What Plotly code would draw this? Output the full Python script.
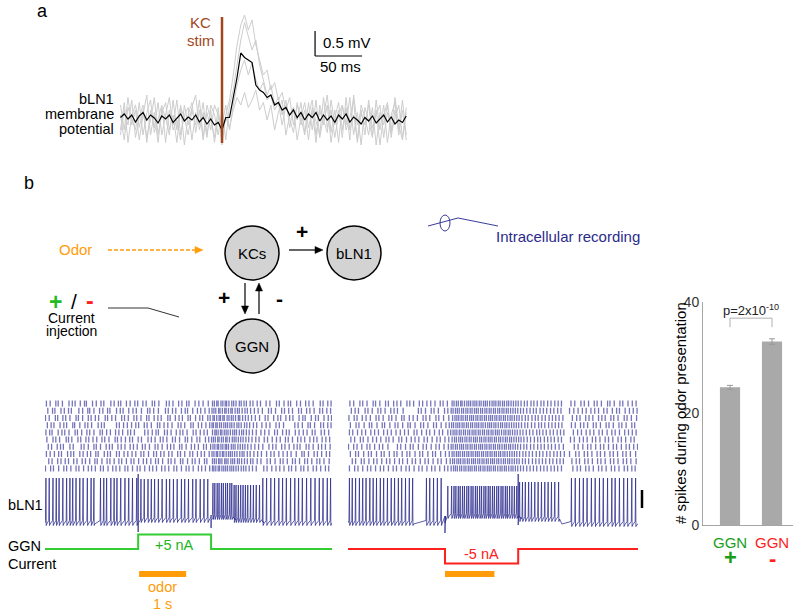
import numpy as np
import plotly.graph_objects as go

W, H = 800, 615
FONT = "Liberation Sans, Arial, sans-serif"


def X(p):
    return p / W


def Y(p):
    return 1 - p / H


# ---------------- panel a data (mV vs ms, stim at 0 ms) ----------------
a_t_ms = np.arange(-108, 197, 4)  # sampling times, 4 ms
a_black_mV = [0.05, 0.12, 0.02, 0.1, -0.04, 0.08, 0.15, 0.0, 0.1, 0.04,
              -0.06, 0.08, 0.02, 0.1, -0.05, 0.04, 0.12, -0.02, 0.06, 0.0,
              0.1, -0.04, 0.05, -0.08, 0.02, -0.1, -0.05, -0.2, 0.05, 0.05,
              0.45, 0.85, 1.34, 1.25, 1.2, 1.15, 0.7, 0.6, 0.55, 0.45,
              0.5, 0.3, 0.35, 0.2, 0.25, 0.1, 0.2, 0.05, 0.15, 0.0,
              0.12, 0.05, 0.15, -0.02, 0.1, 0.0, 0.08, -0.05, 0.1, 0.02,
              0.12, -0.04, 0.06, 0.0, -0.08, 0.05, -0.02, 0.08, -0.06, 0.02,
              0.1, -0.04, 0.06, -0.08, 0.0, -0.05, 0.08]
a_gray1_mV = [0.3, -0.2, 0.45, -0.1, 0.2, -0.4, 0.1, 0.5, -0.3, 0.15,
              -0.45, 0.25, 0.05, -0.3, 0.4, -0.2, 0.3, -0.5, 0.1, 0.35,
              -0.25, 0.2, -0.4, 0.3, 0.0, -0.35, 0.25, -0.5, 0.1, 0.4,
              0.9, 1.5, 1.9, 2.1, 1.8, 2.0, 1.5, 1.2, 0.9, 1.0,
              0.6, 0.75, 0.4, 0.55, 0.2, 0.45, -0.1, 0.3, 0.05, -0.3,
              0.35, -0.2, 0.4, -0.35, 0.1, 0.5, -0.25, 0.2, -0.45, 0.3,
              -0.1, 0.45, -0.3, 0.15, -0.5, 0.25, 0.0, -0.35, 0.4, -0.2,
              0.3, -0.45, 0.1, 0.35, -0.3, 0.2, -0.4]
a_gray2_mV = [-0.3, 0.2, -0.1, 0.4, -0.35, 0.05, 0.3, -0.45, 0.2, -0.15,
              0.35, -0.3, 0.1, 0.45, -0.2, 0.0, -0.4, 0.3, -0.1, 0.25,
              0.5, -0.2, 0.15, -0.35, 0.3, 0.1, -0.3, 0.2, -0.4, 0.3,
              0.6, 1.1, 1.6, 1.95, 1.7, 1.4, 1.6, 1.1, 0.8, 0.5,
              0.7, 0.3, 0.45, 0.1, 0.4, -0.15, 0.25, 0.0, 0.35, -0.25,
              0.1, 0.4, -0.3, 0.2, -0.1, 0.3, -0.45, 0.05, 0.35, -0.2,
              0.25, -0.4, 0.5, -0.1, 0.2, -0.3, 0.4, -0.15, 0.1, 0.3,
              -0.35, 0.15, -0.2, 0.45, -0.1, -0.4, 0.25]
a_gray3_mV = [0.1, -0.4, 0.25, 0.0, -0.2, 0.35, -0.3, 0.15, 0.4, -0.25,
              0.05, 0.3, -0.45, 0.2, -0.1, 0.4, -0.3, 0.1, 0.25, -0.4,
              0.15, -0.1, 0.35, -0.3, 0.2, -0.45, 0.05, -0.1, 0.3, -0.2,
              0.3, 0.7, 1.0, 1.2, 0.9, 1.15, 0.8, 0.6, 0.75, 0.4,
              0.5, 0.2, 0.35, -0.1, 0.3, 0.05, -0.25, 0.35, -0.1, 0.2,
              -0.4, 0.25, 0.0, -0.3, 0.45, -0.15, 0.2, -0.35, 0.1, 0.3,
              -0.2, 0.05, 0.4, -0.45, 0.15, -0.1, 0.3, -0.3, 0.2, -0.5,
              0.1, 0.35, -0.25, 0.0, 0.3, -0.35, 0.15]
a_gray4_mV = [-0.2, 0.35, -0.45, 0.1, 0.3, -0.15, 0.2, -0.35, 0.0, 0.45,
              -0.3, 0.15, 0.35, -0.2, 0.1, -0.45, 0.25, 0.05, -0.3, 0.2,
              -0.1, 0.4, -0.35, 0.15, -0.2, 0.3, 0.1, -0.3, 0.05, -0.15,
              0.2, 0.45, 0.3, 0.55, 0.25, 0.4, 0.6, 0.2, 0.35, 0.0,
              0.3, -0.2, 0.15, 0.4, -0.3, 0.1, 0.25, -0.4, 0.05, 0.35,
              -0.15, 0.2, -0.45, 0.3, 0.0, -0.25, 0.4, -0.1, 0.2, -0.35,
              0.45, -0.2, 0.1, -0.4, 0.3, 0.05, -0.3, 0.25, -0.5, 0.15,
              -0.1, 0.3, -0.35, 0.2, -0.2, 0.4, -0.3]
a_stim_ms = 0
a_scale_ms = 50
a_scale_mV = 0.5

# ---------------- panel b data (spike times in units of 10 ms) ----------------
left_raster_cs = [
    [3, 11, 23, 28, 37, 51, 58, 64, 75, 84, 88, 101, 109, 119, 125, 140, 147, 156, 161, 173, 181, 191, 197, 208, 215, 228, 233, 242, 258, 264, 272, 284, 291, 301, 306, 319, 327, 336, 347, 356, 360, 365, 368, 374, 378, 383, 386, 391, 397, 401, 406, 413, 417, 423, 428, 436, 442, 451, 458, 470, 478, 492, 498, 508, 517, 522, 535, 543, 554, 561, 570, 585, 591, 601, 608],
    [6, 16, 21, 34, 41, 50, 56, 72, 80, 91, 95, 104, 116, 123, 133, 138, 152, 160, 166, 178, 187, 194, 205, 218, 223, 231, 241, 256, 262, 271, 278, 290, 298, 303, 314, 324, 331, 340, 349, 355, 359, 363, 369, 372, 377, 382, 385, 390, 395, 398, 404, 409, 413, 419, 425, 430, 437, 445, 453, 462, 475, 481, 490, 503, 509, 518, 526, 539, 545, 556, 563, 572, 584, 590, 599, 607],
    [1, 9, 22, 27, 38, 44, 53, 66, 71, 80, 92, 98, 107, 114, 128, 133, 142, 150, 163, 169, 177, 189, 195, 204, 216, 221, 232, 240, 247, 261, 266, 277, 285, 292, 304, 309, 320, 329, 335, 346, 351, 357, 360, 365, 370, 373, 378, 381, 387, 391, 396, 400, 405, 411, 414, 420, 426, 432, 439, 447, 456, 468, 474, 486, 495, 501, 512, 520, 527, 540, 548, 553, 566, 575, 581, 593, 602, 609],
    [5, 13, 19, 32, 40, 46, 59, 63, 74, 85, 91, 99, 113, 120, 126, 152, 158, 167, 175, 184, 193, 199, 211, 217, 226, 239, 244, 253, 261, 270, 283, 289, 297, 310, 315, 326, 333, 342, 350, 355, 358, 363, 366, 371, 375, 380, 384, 388, 393, 397, 402, 408, 412, 417, 424, 429, 435, 443, 450, 461, 470, 478, 491, 498, 507, 531, 538, 547, 559, 564, 573, 586, 592, 601, 608],
    [2, 10, 15, 28, 36, 42, 51, 64, 69, 78, 89, 95, 104, 117, 122, 131, 139, 150, 157, 165, 176, 182, 190, 212, 219, 228, 236, 241, 254, 260, 268, 279, 287, 293, 302, 315, 321, 330, 338, 345, 356, 361, 364, 368, 373, 376, 381, 385, 389, 394, 399, 403, 407, 413, 418, 422, 428, 434, 441, 449, 459, 467, 476, 488, 494, 505, 513, 519, 532, 540, 549, 557, 568, 574, 587, 594, 603],
    [4, 17, 23, 31, 45, 50, 57, 70, 76, 87, 93, 102, 110, 121, 127, 136, 149, 154, 162, 171, 180, 186, 198, 205, 219, 226, 234, 245, 251, 259, 271, 277, 286, 298, 303, 312, 323, 329, 341, 348, 354, 358, 362, 367, 370, 375, 379, 384, 387, 392, 398, 402, 406, 411, 416, 421, 427, 433, 440, 448, 455, 466, 473, 483, 492, 500, 511, 517, 526, 537, 544, 552, 563, 571, 578, 589, 597, 605],
    [7, 14, 26, 33, 39, 53, 60, 77, 83, 92, 104, 109, 118, 130, 137, 143, 155, 162, 170, 181, 188, 196, 207, 213, 222, 234, 240, 249, 260, 267, 274, 286, 291, 300, 311, 318, 326, 337, 343, 352, 357, 361, 366, 369, 374, 378, 383, 386, 390, 396, 400, 404, 410, 415, 420, 425, 431, 438, 446, 454, 463, 476, 484, 491, 503, 510, 519, 529, 536, 542, 555, 561, 570, 581, 588, 596, 606],
    [3, 11, 20, 29, 35, 48, 55, 61, 74, 81, 90, 97, 108, 113, 126, 133, 139, 152, 158, 168, 176, 185, 193, 204, 210, 220, 231, 237, 246, 253, 263, 270, 282, 288, 297, 308, 314, 324, 332, 339, 349, 355, 359, 364, 367, 372, 377, 380, 385, 390, 394, 398, 403, 408, 414, 419, 423, 430, 436, 444, 452, 460, 471, 480, 487, 497, 506, 515, 523, 534, 546, 551, 560, 572, 579, 588, 598, 605],
    [8, 15, 27, 34, 43, 50, 61, 68, 79, 86, 95, 106, 111, 121, 132, 138, 147, 157, 163, 173, 183, 189, 199, 209, 216, 225, 235, 241, 250, 262, 268, 276, 288, 293, 303, 313, 319, 328, 339, 344, 356, 360, 364, 369, 372, 376, 382, 385, 389, 395, 399, 403, 409, 413, 418, 424, 430, 437, 442, 451, 459, 472, 479, 489, 500, 506, 515, 526, 532, 541, 552, 558, 567, 578, 584, 593, 604],
    [1, 12, 18, 29, 40, 46, 55, 66, 72, 82, 92, 99, 107, 118, 124, 134, 144, 151, 159, 170, 176, 186, 196, 202, 212, 222, 229, 237, 248, 255, 263, 274, 280, 290, 300, 306, 315, 326, 333, 341, 350, 356, 359, 363, 368, 371, 376, 380, 384, 388, 393, 397, 401, 406, 411, 417, 422, 427, 434, 441, 449, 465, 472, 482, 491, 499, 508, 518, 524, 533, 544, 550, 559, 570, 577, 586, 596, 603],
]
right_raster_cs = [
    [4, 12, 25, 31, 40, 53, 58, 67, 79, 85, 96, 103, 111, 124, 130, 138, 150, 157, 166, 174, 183, 194, 200, 209, 219, 223, 228, 232, 237, 240, 245, 250, 254, 258, 263, 267, 271, 276, 280, 285, 289, 293, 298, 303, 307, 311, 316, 320, 325, 329, 334, 338, 343, 348, 353, 358, 364, 371, 377, 385, 391, 398, 406, 412, 420, 427, 435, 442, 449, 469, 477, 490, 497, 506, 518, 524, 533, 546, 551, 560, 572, 578, 589, 598, 606],
    [7, 15, 22, 36, 42, 51, 63, 69, 78, 90, 97, 104, 116, 148, 154, 163, 175, 181, 190, 203, 210, 217, 221, 226, 230, 234, 239, 243, 248, 252, 257, 261, 266, 270, 274, 279, 283, 288, 292, 297, 301, 306, 310, 315, 319, 324, 328, 333, 337, 342, 347, 352, 357, 363, 369, 376, 383, 390, 396, 404, 411, 418, 426, 433, 441, 448, 466, 475, 484, 493, 501, 511, 519, 527, 538, 545, 556, 565, 571, 583, 592, 600, 608],
    [2, 13, 19, 30, 38, 47, 59, 65, 74, 86, 92, 101, 113, 118, 129, 137, 146, 158, 164, 172, 185, 191, 201, 212, 220, 225, 229, 233, 238, 242, 247, 251, 256, 260, 264, 269, 273, 278, 282, 287, 291, 296, 300, 304, 309, 313, 318, 322, 327, 331, 336, 341, 345, 350, 355, 360, 366, 373, 379, 387, 394, 400, 408, 415, 423, 430, 437, 444, 452, 472, 481, 488, 500, 507, 515, 527, 534, 541, 553, 559, 568, 581, 587, 596, 607],
    [5, 17, 23, 34, 45, 50, 61, 72, 77, 88, 99, 105, 115, 126, 131, 141, 153, 159, 168, 180, 186, 196, 206, 213, 218, 222, 227, 231, 235, 240, 244, 249, 253, 258, 262, 267, 271, 275, 280, 284, 289, 294, 298, 302, 307, 311, 316, 321, 325, 330, 334, 339, 344, 349, 354, 359, 365, 372, 378, 386, 393, 401, 407, 414, 422, 429, 436, 443, 450, 470, 478, 489, 496, 504, 516, 522, 531, 543, 549, 558, 570, 576, 585, 597, 603],
    [3, 10, 20, 29, 37, 48, 56, 64, 75, 83, 91, 101, 110, 119, 127, 139, 145, 155, 165, 172, 182, 192, 199, 210, 216, 221, 225, 229, 234, 238, 243, 247, 252, 256, 261, 265, 269, 274, 278, 283, 287, 292, 296, 301, 305, 310, 314, 318, 323, 328, 332, 337, 341, 346, 351, 356, 362, 368, 375, 382, 389, 397, 403, 410, 417, 425, 432, 440, 447, 454, 474, 483, 491, 501, 509, 517, 528, 535, 545, 555, 562, 571, 582, 590, 598, 606],
    [6, 14, 26, 32, 42, 52, 60, 69, 80, 86, 95, 107, 113, 123, 133, 141, 149, 160, 167, 177, 187, 194, 204, 212, 219, 224, 228, 233, 237, 241, 246, 250, 255, 259, 264, 268, 272, 277, 281, 286, 290, 295, 299, 303, 308, 312, 317, 321, 326, 331, 335, 340, 344, 349, 354, 359, 364, 370, 377, 384, 392, 399, 405, 413, 420, 427, 434, 442, 449, 468, 476, 487, 495, 503, 514, 521, 530, 541, 548, 557, 568, 575, 584, 595, 602],
    [1, 12, 19, 29, 40, 46, 56, 66, 73, 84, 104, 111, 121, 131, 137, 148, 158, 165, 175, 185, 192, 202, 211, 217, 221, 226, 230, 235, 239, 243, 248, 252, 257, 261, 266, 270, 275, 279, 283, 288, 292, 297, 301, 306, 310, 315, 319, 324, 329, 333, 338, 342, 347, 352, 357, 363, 370, 376, 384, 391, 399, 406, 413, 421, 428, 436, 444, 453, 476, 484, 494, 504, 511, 521, 531, 538, 548, 558, 565, 575, 585, 592, 601, 609],
    [5, 16, 22, 33, 43, 49, 60, 70, 76, 87, 97, 103, 114, 124, 130, 141, 151, 157, 168, 178, 184, 195, 205, 213, 219, 223, 228, 232, 236, 241, 245, 250, 254, 259, 263, 268, 272, 276, 281, 285, 290, 294, 299, 303, 308, 312, 317, 321, 326, 330, 335, 340, 345, 350, 355, 361, 368, 374, 381, 388, 396, 403, 410, 418, 425, 433, 440, 447, 455, 466, 479, 486, 497, 504, 513, 524, 531, 540, 551, 558, 567, 578, 585, 594, 605],
    [9, 16, 28, 34, 44, 54, 61, 71, 81, 88, 98, 108, 115, 125, 135, 142, 152, 162, 169, 179, 189, 196, 207, 215, 220, 224, 229, 233, 237, 242, 246, 251, 255, 260, 264, 268, 273, 277, 282, 286, 291, 295, 300, 304, 308, 313, 317, 322, 327, 331, 336, 340, 345, 350, 355, 360, 367, 373, 380, 388, 395, 402, 409, 416, 424, 431, 439, 446, 453, 471, 480, 487, 498, 505, 514, 525, 532, 541, 552, 559, 568, 579, 586, 595, 606],
    [3, 14, 21, 31, 41, 48, 58, 68, 75, 85, 95, 102, 112, 122, 129, 139, 149, 156, 166, 176, 183, 193, 203, 210, 217, 222, 226, 230, 235, 239, 244, 248, 253, 257, 261, 266, 270, 275, 279, 284, 288, 293, 297, 301, 306, 310, 315, 320, 324, 329, 333, 338, 343, 347, 352, 357, 363, 369, 376, 383, 390, 397, 405, 412, 419, 427, 434, 441, 449, 473, 482, 489, 500, 507, 516, 527, 534, 543, 554, 561, 570, 581, 588, 597, 604],
]
left_trace_cs = [2, 9, 17, 24, 30, 38, 46, 53, 59, 66, 74, 81, 90, 98, 104, 118, 125, 131, 140, 147, 153, 161, 170, 178, 186, 195, 204, 211, 219, 226, 233, 241, 249, 258, 265, 273, 281, 290, 297, 305, 314, 321, 330, 338, 346, 357, 361, 366, 370, 375, 379, 384, 388, 393, 397, 402, 406, 411, 416, 421, 426, 431, 437, 443, 449, 456, 463, 471, 480, 488, 497, 505, 513, 522, 531, 539, 547, 556, 565, 574, 583, 591, 600, 607]
right_trace_cs = [3, 9, 16, 24, 31, 38, 46, 53, 60, 68, 75, 83, 91, 98, 106, 113, 121, 129, 136, 165, 172, 180, 188, 196, 210, 218, 223, 227, 232, 236, 241, 245, 250, 254, 259, 263, 268, 272, 277, 281, 286, 290, 295, 299, 304, 308, 313, 317, 322, 326, 331, 335, 340, 345, 350, 355, 361, 367, 373, 380, 386, 393, 400, 407, 414, 421, 428, 435, 443, 470, 478, 487, 495, 503, 512, 520, 529, 537, 546, 555, 562, 571, 580, 588, 597, 605]

# epochs of the single-trial traces (s), baseline and spike-peak levels (mV re. rest)
left_epoch_s = [0, 1.98, 3.53, 4.0, 4.6, 6.1]
left_base_mV = [0, 3, 6, 3, 0]
left_peak_mV = [45, 44, 40, 38, 45]
left_artifacts = [(1.98, -9, 49), (3.53, -5, 8)]
right_epoch_s = [0, 2.04, 3.6, 4.45, 6.1]
right_base_mV = [0, 7, 4, -1]
right_peak_mV = [45, 37, 41, 45]
right_artifacts = [(2.04, -10, 5), (3.58, -2, 49)]

# injected GGN current (nA) and odor timing (s)
left_current_t = [0, 1.98, 1.98, 3.53, 3.53, 6.1]
left_current_nA = [0, 0, 5, 5, 0, 0]
right_current_t = [0, 2.04, 2.04, 3.58, 3.58, 6.1]
right_current_nA = [0, 0, -5, -5, 0, 0]
left_odor_s = [2.0, 3.0]
right_odor_s = [2.04, 3.08]
trace_scalebar_mV = 18

# bar chart
bar_labels = ["GGN +", "GGN -"]
bar_spikes = [24.7, 32.9]
bar_sem = [0.35, 0.5]

# ---------------- colours ----------------
BLUE = "rgba(42,42,140,0.85)"
RASTER = "rgba(62,62,160,0.72)"
GREEN = "#33cc33"
RED = "#ff2020"
ORANGE = "#ff9c0a"
BROWN = "#a3461d"
GRAY_C = "#d3d3d3"

fig = go.Figure()

# ---- panel a traces ----
for g in [a_gray1_mV, a_gray2_mV, a_gray3_mV, a_gray4_mV]:
    fig.add_trace(go.Scatter(x=a_t_ms, y=g, mode="lines",
                             line=dict(color="#cdcdcd", width=1),
                             xaxis="x", yaxis="y", hoverinfo="skip", showlegend=False))
fig.add_trace(go.Scatter(x=a_t_ms, y=a_black_mV, mode="lines",
                         line=dict(color="black", width=1.2),
                         xaxis="x", yaxis="y", hoverinfo="skip", showlegend=False))


# ---- rasters ----
def raster_xy(trials):
    xs, ys = [], []
    for i, tr in enumerate(trials):
        for s in tr:
            t = s / 100
            xs += [t, t, None]
            ys += [i + 0.08, i + 0.92, None]
    return xs, ys


for trials, xa, ya in [(left_raster_cs, "x2", "y2"), (right_raster_cs, "x3", "y5")]:
    xs, ys = raster_xy(trials)
    fig.add_trace(go.Scatter(x=xs, y=ys, mode="lines", line=dict(color=RASTER, width=1.3),
                             xaxis=xa, yaxis=ya, hoverinfo="skip", showlegend=False))


# ---- single-trial traces ----
def trace_xy(spikes_cs, edges, base, peak, arts):
    def level(t, arr):
        for i in range(len(edges) - 1):
            if edges[i] <= t < edges[i + 1]:
                return arr[i]
        return arr[-1]

    ev = [(s / 100, 0, None) for s in spikes_cs]
    ev += [(ta, 1, (lo, hi)) for ta, lo, hi in arts]
    ev += [(e, 2, None) for e in edges[1:-1]]
    ev.sort(key=lambda e: (e[0], e[1]))
    xs, ys = [0], [base[0]]
    for t, kind, extra in ev:
        b = level(t, base)
        if kind == 0:
            p = level(t, peak)
            xs += [t - 0.01, t, t + 0.006, t + 0.018]
            ys += [b + 2.5, p, b - 2.5, b - 1]
        elif kind == 1:
            lo, hi = extra
            xs += [t, t, t, t + 0.01]
            ys += [b, hi, lo, b]
        else:
            prev = level(t - 1e-6, base)
            xs += [t, t + 0.05]
            ys += [prev, b]
    xs.append(edges[-1])
    ys.append(base[-1])
    return xs, ys


for args, xa, ya in [((left_trace_cs, left_epoch_s, left_base_mV, left_peak_mV, left_artifacts), "x2", "y3"),
                     ((right_trace_cs, right_epoch_s, right_base_mV, right_peak_mV, right_artifacts), "x3", "y6")]:
    xs, ys = trace_xy(*args)
    fig.add_trace(go.Scatter(x=xs, y=ys, mode="lines", line=dict(color=BLUE, width=0.9),
                             xaxis=xa, yaxis=ya, hoverinfo="skip", showlegend=False))

# ---- currents ----
fig.add_trace(go.Scatter(x=left_current_t, y=left_current_nA, mode="lines",
                         line=dict(color=GREEN, width=2), xaxis="x2", yaxis="y4",
                         hoverinfo="skip", showlegend=False))
fig.add_trace(go.Scatter(x=right_current_t, y=right_current_nA, mode="lines",
                         line=dict(color=RED, width=2), xaxis="x3", yaxis="y7",
                         hoverinfo="skip", showlegend=False))

# ---- bar chart ----
fig.add_trace(go.Bar(x=[0, 1], y=bar_spikes, width=0.48, marker=dict(color="#a9a9a9", line=dict(width=0)),
                     error_y=dict(type="data", array=bar_sem, color="#999999", thickness=1, width=3),
                     xaxis="x4", yaxis="y8", hoverinfo="skip", showlegend=False))

hid = dict(visible=False, showgrid=False, zeroline=False, fixedrange=True, automargin=False)
fig.update_layout(
    width=W, height=H, margin=dict(l=0, r=0, t=0, b=0, pad=0, autoexpand=False),
    paper_bgcolor="white", plot_bgcolor="rgba(0,0,0,0)",
    font=dict(family=FONT, size=14, color="black"),
    showlegend=False,
    xaxis=dict(domain=[X(120), X(407)], range=[-108.5, 196.8], anchor="y", **hid),
    yaxis=dict(domain=[Y(148), Y(15)], range=[-0.56, 2.1], anchor="x", **hid),
    xaxis2=dict(domain=[X(45), X(332)], range=[0, 6.1], anchor="y2", **hid),
    yaxis2=dict(domain=[Y(472), Y(400)], range=[10, 0], anchor="x2", **hid),
    yaxis3=dict(domain=[Y(535), Y(470)], range=[-12, 53], anchor="x2", **hid),
    yaxis4=dict(domain=[Y(570), Y(528)], range=[-7.24, 7.24], anchor="x2", **hid),
    xaxis3=dict(domain=[X(348), X(638)], range=[0, 6.1], anchor="y5", **hid),
    yaxis5=dict(domain=[Y(472), Y(400)], range=[10, 0], anchor="x3", **hid),
    yaxis6=dict(domain=[Y(535), Y(470)], range=[-12, 53], anchor="x3", **hid),
    yaxis7=dict(domain=[Y(570), Y(528)], range=[-7.24, 7.24], anchor="x3", **hid),
    xaxis4=dict(domain=[X(703), X(793)], range=[-0.643, 1.5], anchor="y8", showline=True,
                linecolor="#a6a6a6", linewidth=1, showticklabels=False, ticks="",
                showgrid=False, zeroline=False, fixedrange=True, automargin=False),
    yaxis8=dict(domain=[Y(525), Y(302)], range=[0, 40], anchor="x4", tickvals=[0, 20, 40],
                showline=True, linecolor="#a6a6a6", linewidth=1, ticks="", showgrid=False,
                zeroline=False, fixedrange=True, automargin=False,
                tickfont=dict(size=14, color="#333333")),
)

shapes = []
ann = []


def txt(x, y, s, size=14.5, color="black", xanchor="center", **kw):
    ann.append(dict(x=X(x), y=Y(y), xref="paper", yref="paper", text=s, showarrow=False,
                    font=dict(size=size, color=color, family=FONT), xanchor=xanchor,
                    yanchor="middle", **kw))


def dtxt(x, y, s, xref, yref="paper", size=14.5, color="black"):
    ann.append(dict(x=x, y=y, xref=xref, yref=yref, text=s, showarrow=False, xanchor="center",
                    yanchor="middle", font=dict(size=size, color=color, family=FONT)))


def pline(x0, y0, x1, y1, color="black", width=1, dash="solid"):
    shapes.append(dict(type="line", xref="paper", yref="paper", x0=X(x0), y0=Y(y0), x1=X(x1), y1=Y(y1),
                       line=dict(color=color, width=width, dash=dash)))


def arrow(tx, ty, hx, hy, color="black", width=1.2, head=8, half=3.5, dash="solid"):
    L = ((hx - tx) ** 2 + (hy - ty) ** 2) ** 0.5
    ux, uy = (hx - tx) / L, (hy - ty) / L
    bx, by = hx - ux * head, hy - uy * head
    pline(tx, ty, bx, by, color=color, width=width, dash=dash)
    p1 = (bx - uy * half, by + ux * half)
    p2 = (bx + uy * half, by - ux * half)
    path = "M {:.5f},{:.5f} L {:.5f},{:.5f} L {:.5f},{:.5f} Z".format(
        X(hx), Y(hy), X(p1[0]), Y(p1[1]), X(p2[0]), Y(p2[1]))
    shapes.append(dict(type="path", xref="paper", yref="paper", path=path, fillcolor=color,
                       line=dict(color=color, width=0.5)))


# ---- panel a annotations ----
txt(42, 11, "a", size=18)
shapes.append(dict(type="line", xref="x", yref="paper", x0=a_stim_ms, x1=a_stim_ms, y0=Y(143), y1=Y(17),
                   line=dict(color=BROWN, width=2.5), layer="above"))
txt(201, 23, "KC", color=BROWN, size=15)
txt(201, 41, "stim", color=BROWN, size=15)
sb_t = 99
sb_v = 1.28
shapes.append(dict(type="line", xref="x", yref="y", x0=sb_t, x1=sb_t, y0=sb_v, y1=sb_v + a_scale_mV,
                   line=dict(color="black", width=1.2)))
shapes.append(dict(type="line", xref="x", yref="y", x0=sb_t, x1=sb_t + a_scale_ms, y0=sb_v, y1=sb_v,
                   line=dict(color="black", width=1.2)))
txt(321, 42, "0.5 mV", xanchor="left", size=15)
txt(340, 67, "50 ms", size=15)
txt(116, 99, "bLN1", xanchor="right")
txt(116, 114, "membrane", xanchor="right")
txt(116, 129, "potential", xanchor="right")

# ---- panel b diagram ----
txt(29, 183, "b", size=18)
for cx, cy, lab in [(252, 253, "KCs"), (354, 253, "bLN1"), (252, 346, "GGN")]:
    r = 27
    shapes.append(dict(type="circle", xref="paper", yref="paper", x0=X(cx - r), x1=X(cx + r),
                       y0=Y(cy + r), y1=Y(cy - r), fillcolor=GRAY_C, line=dict(color="black", width=1.5)))
    txt(cx, cy, lab, size=15)
arrow(289, 250, 323, 250)
txt(302, 232, "<b>+</b>", size=21)
arrow(245, 283, 245, 314)
arrow(259, 314, 259, 283)
txt(224, 297, "<b>+</b>", size=21)
txt(279, 298, "<b>-</b>", size=21)
txt(75, 249, "Odor", color=ORANGE, size=15)
arrow(108, 250, 203, 250, color=ORANGE, width=1.5, dash="4px,2px")
txt(55, 302, "<b>+</b>", size=23, color="#22bb22")
txt(74, 302, "/", size=21)
txt(90, 301, "<b>-</b>", size=23, color=RED)
txt(71, 318, "Current", size=14)
txt(71, 331, "injection", size=14)
pline(108, 308, 148, 308, color="#333333", width=1)
pline(148, 308, 179, 317, color="#333333", width=1)
# electrode
pline(428, 226, 458, 218, color="#3a3a9a", width=1)
pline(458, 218, 498, 226, color="#3a3a9a", width=1)
shapes.append(dict(type="circle", xref="paper", yref="paper", x0=X(440), x1=X(450), y0=Y(231), y1=Y(215),
                   line=dict(color="#3a3a9a", width=1)))
txt(494, 236, "Intracellular recording", size=15, color="#2b2b8b", xanchor="left")

# ---- panel b trace labels ----
txt(6, 505, "bLN1", xanchor="left")
txt(6, 546, "GGN", xanchor="left")
txt(6, 564, "Current", xanchor="left")
dtxt((left_current_t[1] + left_current_t[3]) / 2, Y(545), "+5 nA", "x2", color="#22b422")
dtxt((right_current_t[1] + right_current_t[3]) / 2, Y(554), "-5 nA", "x3", color=RED)
for od, xa in [(left_odor_s, "x2"), (right_odor_s, "x3")]:
    shapes.append(dict(type="rect", xref=xa, yref="paper", x0=od[0], x1=od[1], y0=Y(577), y1=Y(571),
                       fillcolor=ORANGE, line=dict(width=0)))
dtxt(sum(left_odor_s) / 2, Y(587), "odor", "x2", color=ORANGE)
dtxt(sum(left_odor_s) / 2, Y(604), "1 s", "x2", color=ORANGE)
shapes.append(dict(type="line", xref="paper", yref="y6", x0=X(642), x1=X(642), y0=15, y1=15 + trace_scalebar_mV,
                   line=dict(color="black", width=2.5)))

# ---- bar chart annotations ----
shapes.append(dict(type="path", xref="x4", yref="y8", path="M 0,35.5 L 0,37.1 L 1,37.1 L 1,35.5",
                   line=dict(color="#b0b0b0", width=1)))
dtxt(0.5, 38.6, "p=2x10<sup>-10</sup>", "x4", "y8", size=13, color="#222")
dtxt(0, Y(542), "GGN", "x4", size=15, color="#1a9e1a")
dtxt(0, Y(557), "<b>+</b>", "x4", size=22, color="#1a9e1a")
dtxt(1, Y(542), "GGN", "x4", size=15, color=RED)
dtxt(1, Y(558), "<b>-</b>", "x4", size=22, color=RED)
txt(680, 413, "# spikes during odor presentation", size=15, textangle=-90)

fig.update_layout(shapes=shapes, annotations=ann)
fig.write_html("out.html", config={"displayModeBar": False},
               post_script="document.body.style.margin='0';document.body.style.overflow='hidden';")
